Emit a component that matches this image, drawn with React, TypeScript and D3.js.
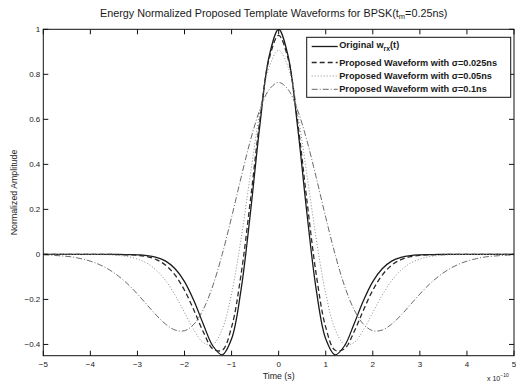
import React from "react";
import * as d3 from "d3";

// Time axis in units of 1e-10 s
const times = [
  -5.0, -4.8, -4.6, -4.4, -4.2, -4.0, -3.8, -3.6, -3.4, -3.2, -3.0, -2.8, -2.6, -2.4, -2.2, -2.0, -1.8,
  -1.6, -1.4, -1.2, -1.0, -0.8, -0.6, -0.4, -0.2, 0.0, 0.2, 0.4, 0.6, 0.8, 1.0, 1.2, 1.4, 1.6, 1.8, 2.0,
  2.2, 2.4, 2.6, 2.8, 3.0, 3.2, 3.4, 3.6, 3.8, 4.0, 4.2, 4.4, 4.6, 4.8, 5.0,
];

const original = [
  0, 0, 0, 0, 0, 0, 0, 0, 0, -0.001, -0.002, -0.005, -0.013, -0.03, -0.064, -0.121, -0.206, -0.31,
  -0.406, -0.446, -0.375, -0.159, 0.184, 0.572, 0.882, 1.0, 0.882, 0.572, 0.184, -0.159, -0.375, -0.446,
  -0.406, -0.31, -0.206, -0.121, -0.064, -0.03, -0.013, -0.005, -0.002, -0.001, 0, 0, 0, 0, 0, 0, 0, 0, 0,
];

const sigma025 = [
  0, 0, 0, 0, 0, 0, 0, 0, -0.001, -0.002, -0.004, -0.01, -0.023, -0.048, -0.092, -0.159, -0.248, -0.345,
  -0.419, -0.426, -0.323, -0.091, 0.24, 0.595, 0.87, 0.973, 0.87, 0.595, 0.24, -0.091, -0.323, -0.426,
  -0.419, -0.345, -0.248, -0.159, -0.092, -0.048, -0.023, -0.01, -0.004, -0.002, -0.001, 0, 0, 0, 0, 0, 0, 0, 0,
];

const sigma05 = [
  0, 0, 0, 0, 0, 0, -0.001, -0.002, -0.005, -0.01, -0.021, -0.039, -0.07, -0.117, -0.181, -0.258, -0.336,
  -0.392, -0.4, -0.333, -0.174, 0.067, 0.355, 0.632, 0.833, 0.907, 0.833, 0.632, 0.355, 0.067, -0.174,
  -0.333, -0.4, -0.392, -0.336, -0.258, -0.181, -0.117, -0.07, -0.039, -0.021, -0.01, -0.005, -0.002,
  -0.001, 0, 0, 0, 0, 0, 0,
];

const sigma1 = [
  -0.002, -0.004, -0.007, -0.011, -0.019, -0.03, -0.046, -0.068, -0.097, -0.133, -0.176, -0.223, -0.27,
  -0.31, -0.336, -0.339, -0.31, -0.244, -0.14, 0.0, 0.165, 0.34, 0.506, 0.642, 0.733, 0.764, 0.733, 0.642,
  0.506, 0.34, 0.165, 0.0, -0.14, -0.244, -0.31, -0.339, -0.336, -0.31, -0.27, -0.223, -0.176, -0.133,
  -0.097, -0.068, -0.046, -0.03, -0.019, -0.011, -0.007, -0.004, -0.002,
];

const xTicks = [-5, -4, -3, -2, -1, 0, 1, 2, 3, 4, 5];
const yTicks = [-0.4, -0.2, 0, 0.2, 0.4, 0.6, 0.8, 1];
const yTickLabels = ["-0.4", "-0.2", "0", "0.2", "0.4", "0.6", "0.8", "1"];

const seriesNames = [
  "Proposed Waveform with \u03c3=0.025ns",
  "Proposed Waveform with \u03c3=0.05ns",
  "Proposed Waveform with \u03c3=0.1ns",
];

const W = 516;
const H = 383;
const L = 43.3;
const R = 514;
const T = 29.3;
const B = 355.7;

const FONT = "'Liberation Sans', Arial, Helvetica, sans-serif";

export default function App() {
  const x = d3.scaleLinear().domain([-5, 5]).range([L, R]);
  const y = d3.scaleLinear().domain([-0.45, 1]).range([B, T]);

  const line = (vals: number[]) =>
    d3
      .line<number>()
      .x((_, i) => x(times[i]))
      .y((d) => y(d))
      .curve(d3.curveCatmullRom.alpha(0.5))(vals) || "";

  const styles = [
    { data: original, stroke: "#1a1a1a", width: 1.3, dash: "" },
    { data: sigma025, stroke: "#2a2a2a", width: 1.3, dash: "5,3" },
    { data: sigma05, stroke: "#8a8a8a", width: 1.0, dash: "1,2" },
    { data: sigma1, stroke: "#6a6a6a", width: 1.0, dash: "6,2,1,2" },
  ];

  const tickLen = 5;
  const textColor = "#1a1a1a";

  const legL = 306.7;
  const legT = 37.3;
  const legW = 204;
  const legH = 60;
  const rowY = [44.5, 62.5, 76, 89.3];

  return (
    <svg
      width={W}
      height={H}
      style={{ position: "absolute", left: 0, top: 0, background: "#fff" }}
      fontFamily={FONT}
    >
      <rect x={0} y={0} width={W} height={H} fill="#fff" />
      {/* Title */}
      <text x={100} y={16.5} fontSize={10.8} fill={textColor}>
        Energy Normalized Proposed Template Waveforms for BPSK(t
        <tspan fontSize={7.5} dy={2.5}>m</tspan>
        <tspan dy={-2.5}>=0.25ns)</tspan>
      </text>

      <defs>
        <clipPath id="plotclip">
          <rect x={L} y={T} width={R - L} height={B - T} />
        </clipPath>
      </defs>

      {/* curves */}
      <g clipPath="url(#plotclip)">
        {styles.map((s, i) => (
          <path
            key={i}
            d={line(s.data)}
            fill="none"
            stroke={s.stroke}
            strokeWidth={s.width}
            strokeDasharray={s.dash || undefined}
          />
        ))}
      </g>

      {/* axes box */}
      <rect x={L} y={T} width={R - L} height={B - T} fill="none" stroke="#111" strokeWidth={1} />

      {/* x ticks */}
      {xTicks.map((t) => (
        <g key={"x" + t}>
          <line x1={x(t)} x2={x(t)} y1={B} y2={B - tickLen} stroke="#111" />
          <line x1={x(t)} x2={x(t)} y1={T} y2={T + tickLen} stroke="#111" />
          <text x={x(t)} y={366.5} fontSize={8} textAnchor="middle" fill={textColor}>
            {t < 0 ? "\u2212" + Math.abs(t) : String(t)}
          </text>
        </g>
      ))}

      {/* y ticks */}
      {yTicks.map((v, i) => (
        <g key={"y" + v}>
          <line x1={L} x2={L + tickLen} y1={y(v)} y2={y(v)} stroke="#111" />
          <line x1={R} x2={R - tickLen} y1={y(v)} y2={y(v)} stroke="#111" />
          <text x={L - 3} y={y(v) + 3} fontSize={8} textAnchor="end" fill={textColor}>
            {yTickLabels[i].replace("-", "\u2212")}
          </text>
        </g>
      ))}

      {/* axis labels */}
      <text x={(L + R) / 2} y={378.5} fontSize={8.8} textAnchor="middle" fill={textColor}>
        Time (s)
      </text>
      <text x={487} y={381} fontSize={7} fill={textColor}>
        x 10
        <tspan fontSize={5} dy={-4}>
          {"\u221210"}
        </tspan>
      </text>
      <text
        transform={`translate(17, ${(T + B) / 2}) rotate(-90)`}
        fontSize={8.8}
        textAnchor="middle"
        fill={textColor}
      >
        Normalized Amplitude
      </text>

      {/* legend */}
      <rect x={legL} y={legT} width={legW} height={legH} fill="#fff" stroke="#111" strokeWidth={1} />
      {styles.map((s, i) => (
        <line
          key={"ll" + i}
          x1={legL + 5}
          x2={legL + 31}
          y1={rowY[i] + (i === 0 ? 2 : 0)}
          y2={rowY[i] + (i === 0 ? 2 : 0)}
          stroke={s.stroke}
          strokeWidth={s.width}
          strokeDasharray={s.dash || undefined}
        />
      ))}
      <text x={legL + 32.5} y={rowY[0] + 3} fontSize={9.2} fontWeight="bold" fill={textColor}>
        Original w
        <tspan fontSize={6.8} dy={3}>rx</tspan>
        <tspan dy={-3}>(t)</tspan>
      </text>
      {seriesNames.map((n, i) => (
        <text
          key={"lt" + i}
          x={legL + 32.5}
          y={rowY[i + 1] + 3}
          fontSize={9.2}
          fontWeight="bold"
          fill={textColor}
        >
          {n}
        </text>
      ))}
    </svg>
  );
}
